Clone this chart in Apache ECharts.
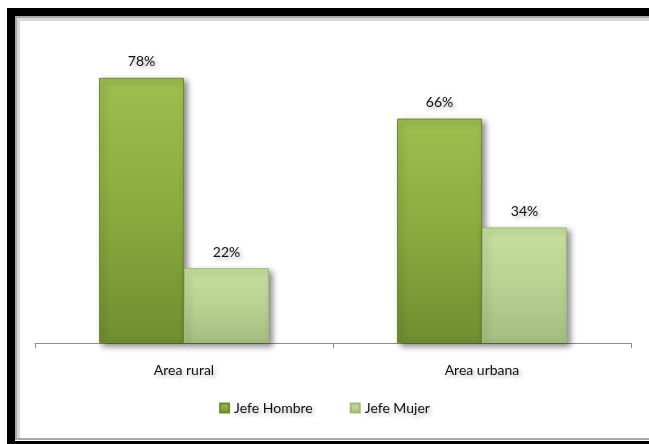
<!DOCTYPE html>
<html>
<head>
<meta charset="utf-8">
<script src="https://cdn.jsdelivr.net/npm/echarts@6/dist/echarts.min.js"></script>
<style>
  html, body { margin: 0; padding: 0; background: #fff; }
  #main { width: 649px; height: 444px; }
</style>
</head>
<body>
<div id="main"></div>
<script>
// datos del grafico
var categories = ['Area rural', 'Area urbana'];
var seriesNames = ['Jefe Hombre', 'Jefe Mujer'];
var jefeHombre = [78, 66];
var jefeMujer = [22, 34];

var myChart = echarts.init(document.getElementById('main'));

// degradados de las barras
var verdeOscuro = new echarts.graphic.LinearGradient(0, 0, 0, 1, [
  { offset: 0, color: '#9ebe50' },
  { offset: 0.5, color: '#8aab3f' },
  { offset: 1, color: '#6f8e30' }
]);
var verdeClaro = new echarts.graphic.LinearGradient(0, 0, 0, 1, [
  { offset: 0, color: '#c8e0a0' },
  { offset: 0.5, color: '#b8d292' },
  { offset: 1, color: '#a3bd80' }
]);

var labelStyle = {
  show: true,
  position: 'top',
  distance: 9,
  formatter: '{c}%',
  fontFamily: 'Lato',
  fontSize: 14,
  color: '#111',
  textShadowColor: 'rgba(0,0,0,0.35)',
  textShadowBlur: 4,
  textShadowOffsetX: 2,
  textShadowOffsetY: 2
};

var option = {
  backgroundColor: '#fff',
  animation: false,
  grid: {
    left: 35,
    right: 18,
    top: 37,
    bottom: 101
  },
  legend: {
    data: seriesNames,
    bottom: 24,
    left: 'center',
    itemWidth: 9,
    itemHeight: 9,
    itemGap: 37,
    icon: 'rect',
    textStyle: {
      fontFamily: 'Lato',
      fontSize: 14,
      color: '#111',
      textShadowColor: 'rgba(0,0,0,0.3)',
      textShadowBlur: 4,
      textShadowOffsetX: 2,
      textShadowOffsetY: 2
    }
  },
  xAxis: [{
    type: 'category',
    data: categories,
    axisLine: { lineStyle: { color: '#8c8c8c', width: 1 } },
    axisTick: { show: true, alignWithLabel: false, length: 5, lineStyle: { color: '#8c8c8c' } },
    axisLabel: {
      margin: 20,
      fontFamily: 'Lato',
      fontSize: 14,
      color: '#111',
      textShadowColor: 'rgba(0,0,0,0.3)',
      textShadowBlur: 4,
      textShadowOffsetX: 2,
      textShadowOffsetY: 2
    }
  }],
  yAxis: [{
    type: 'value',
    min: 0,
    max: 90,
    show: false,
    splitLine: { show: false }
  }],
  graphic: [
    // marco negro (izquierda, arriba, abajo)
    { type: 'rect', shape: { x: 7, y: 8, width: 8, height: 436 }, style: { fill: '#000' } },
    { type: 'rect', shape: { x: 7, y: 8, width: 642, height: 8 }, style: { fill: '#000' } },
    { type: 'rect', shape: { x: 7, y: 441, width: 642, height: 3 }, style: { fill: '#000' } },
    // linea gris interior
    { type: 'rect', shape: { x: 15, y: 16, width: 634, height: 2 }, style: { fill: '#a8a8a8' } },
    { type: 'rect', shape: { x: 15, y: 16, width: 2, height: 424 }, style: { fill: '#a8a8a8' } },
    { type: 'rect', shape: { x: 15, y: 438, width: 634, height: 2 }, style: { fill: '#a8a8a8' } },
    { type: 'rect', shape: { x: 17, y: 18, width: 632, height: 3 }, style: { fill: '#d8d8d8' } },
    { type: 'rect', shape: { x: 17, y: 18, width: 3, height: 420 }, style: { fill: '#d8d8d8' } },
    // borde derecho blanco (el original esta cortado)
    { type: 'rect', z: 100, shape: { x: 641, y: 21, width: 8, height: 417 }, style: { fill: '#fff' } }
  ],
  series: [{
    name: seriesNames[0],
    type: 'bar',
    data: jefeHombre,
    barWidth: 85,
    barGap: '0%',
    itemStyle: {
      color: verdeOscuro,
      borderColor: '#6d8c2e',
      borderWidth: 1,
      shadowColor: 'rgba(0,0,0,0.45)',
      shadowBlur: 6,
      shadowOffsetX: 3,
      shadowOffsetY: 3
    },
    label: labelStyle
  }, {
    name: seriesNames[1],
    type: 'bar',
    data: jefeMujer,
    barWidth: 85,
    itemStyle: {
      color: verdeClaro,
      borderColor: '#a0ba7c',
      borderWidth: 1,
      shadowColor: 'rgba(0,0,0,0.45)',
      shadowBlur: 6,
      shadowOffsetX: 3,
      shadowOffsetY: 3
    },
    label: labelStyle
  }]
};

myChart.setOption(option);
</script>
</body>
</html>
